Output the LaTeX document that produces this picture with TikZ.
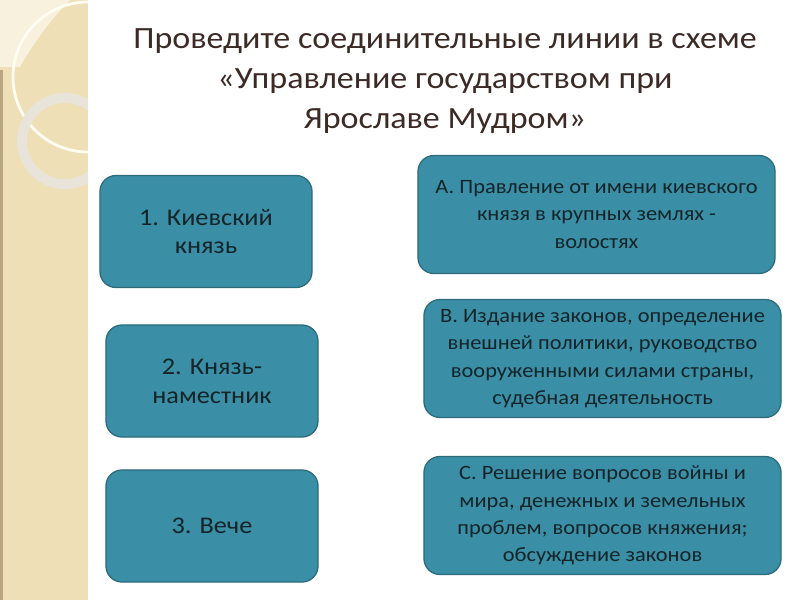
\documentclass[tikz,border=0pt]{standalone}
\usepackage{fontspec}
\setmainfont[FakeStretch=1.1]{Carlito}
\usepackage{tikz}
\usetikzlibrary{
  positioning,
  shapes.misc
}
\usepackage{xcolor}

\definecolor{boxfill}{HTML}{3A8EA5}
\definecolor{boxline}{HTML}{2B6B7C}
\definecolor{boxtext}{HTML}{142429}
\definecolor{titlecol}{HTML}{3B2A25}
\definecolor{strip}{HTML}{EEDFB6}
\definecolor{stripedge}{HTML}{A38C68}
\definecolor{ringcol}{HTML}{E8E4DA}
\definecolor{arccol}{HTML}{FFFCF2}

\tikzset{
  organ/.style={draw=boxline, fill=boxfill, line width=0.9pt, rounded corners=0.4cm, text=boxtext, align=center, font=\fontsize{17}{20.6}\selectfont, minimum width=5.3cm, minimum height=2.8cm},
  duty/.style={organ, font=\fontsize{14.5}{19.4}\selectfont, minimum width=8.925cm, minimum height=2.95cm}
}

\begin{document}
\begin{tikzpicture}[x=0.025cm, y=-0.025cm]

	\useasboundingbox (0,0) rectangle (800,600);
	\fill[white] (0,0) rectangle (800,600);

	\fill[strip] (0,0) rectangle (88,600);
	\fill[strip!45!white] (0,0) -- (0,67) -- (20,67) .. controls (35,40) and (55,15) .. (70,0) -- cycle;
	\fill[stripedge!70!strip] (0,70) rectangle (2.5,600);
	\begin{scope}
		\clip (0,0) rectangle (88,600);
		\draw[arccol, line width=2pt] (88,77) circle (1.875cm);
		\draw[ringcol, line width=0.25cm] (65,141) circle (1.075cm);
	\end{scope}

	\node[text=titlecol, align=center, font=\fontsize{22}{28.6}\selectfont] (title) at (445,81) {Проведите соединительные линии в схеме\\«Управление государством при\\Ярославе Мудром»};

	\node[organ] (kiev) at (206,231.5) {1. Киевский\\князь};
	\node[organ] (namestnik) at (212,381) {2. Князь-\\наместник};
	\node[organ] (veche) at (212,526) {3. Вече};

	\node[duty] (a) at (596.5,214.5) {А. Правление от имени киевского\\князя в крупных землях -\\волостях};
	\node[duty] (b) at (602.5,358.5) {В. Издание законов, определение\\внешней политики, руководство\\вооруженными силами страны,\\судебная деятельность};
	\node[duty] (c) at (602.5,515.5) {С. Решение вопросов войны и\\мира, денежных и земельных\\проблем, вопросов княжения;\\обсуждение законов};

\end{tikzpicture}
\end{document}
